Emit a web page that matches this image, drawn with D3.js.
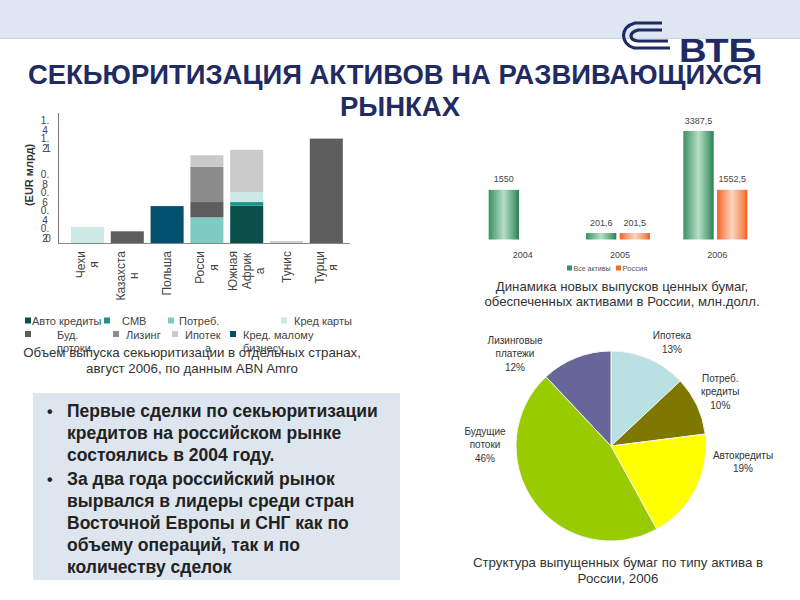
<!DOCTYPE html>
<html><head><meta charset="utf-8">
<script src="https://cdn.jsdelivr.net/npm/d3@7"></script>
<style>body{margin:0;background:#fff} svg{display:block;font-family:"Liberation Sans",Arial,sans-serif}</style>
</head><body><svg id="c" width="800" height="600"></svg>
<script>
// ---------- DATA ----------
const titleLines = ["СЕКЬЮРИТИЗАЦИЯ АКТИВОВ НА РАЗВИВАЮЩИХСЯ", "РЫНКАХ"];

// Left chart: securitization volume by country, EUR bn
const countries = ["Чехия","Казахстан","Польша","Россия","Южная Африка","Тунис","Турция"];
const countryLabelLines = [["Чехи","я"],["Казахста","н"],["Польша"],["Росси","я"],["Южная","Африк","а"],["Тунис"],["Турци","я"]];
const assetKeys = ["auto","cmb","consumer","cards","future","leasing","mortgage","sme"];
const assetNames = ["Авто кредиты","CMB","Потреб.","Кред карты","Буд. потоки","Лизинг","Ипотека","Кред. малому бизнесу"];
const autoLoans   = [0,    0,    0,    0,     0.415, 0,    0];
const cmbValues   = [0,    0,    0,    0,     0.04,  0,    0];
const consumer    = [0,    0,    0,    0.285, 0,     0,    0];
const creditCards = [0.18, 0,    0,    0,     0.11,  0,    0];
const futureFlows = [0,    0.13, 0,    0.17,  0,     0,    1.16];
const leasing     = [0,    0,    0,    0.39,  0,     0,    0];
const mortgage    = [0,    0,    0,    0.13,  0.47,  0.02, 0];
const smeLoans    = [0,    0,    0.41, 0,     0,     0,    0];
const yTicks = [0,0.2,0.4,0.6,0.8,1,1.2,1.4];
const yTickLines = [["0"],["0.","2"],["0.","4"],["0.","6"],["0.","8"],["1"],["1.","2"],["1.","4"]];
const yAxisTitle = "(EUR млрд)";
const leftCaption = ["Объем выпуска секьюритизации в отдельных странах,","август 2006, по данным ABN Amro"];

// Right-top chart: new ABS issues in Russia, USD mn
const years = ["2004","2005","2006"];
const seriesNames = ["Все активы","Россия"];
const allAssets = [1550, 201.6, 3387.5];
const russia    = [0,    201.5, 1552.5];
const allAssetsLabels = ["1550","201,6","3387,5"];
const russiaLabels    = ["","201,5","1552,5"];
const rightCaption = ["Динамика новых выпусков ценных бумаг,","обеспеченных активами в России, млн.долл."];

// Pie: structure by asset type, Russia 2006
const pieNames  = [["Ипотека","13%"],["Потреб.","кредиты","10%"],["Автокредиты","19%"],["Будущие","потоки","46%"],["Лизинговые","платежи","12%"]];
const pieValues = [13, 10, 19, 46, 12];
const pieCaption = ["Структура выпущенных бумаг по типу актива в","России, 2006"];

const bullets = [
  ["Первые сделки по секьюритизации","кредитов на российском рынке","состоялись в 2004 году."],
  ["За два года российский рынок","вырвался в лидеры среди стран","Восточной Европы и СНГ как по","объему операций, так и по","количеству сделок"]
];

// ---------- STYLE / LAYOUT ----------
const assetColors = ["#0b4f4b","#16958a","#80cbc1","#cce9e6","#5e5e5e","#8c8c8c","#cacaca","#00506e"];
const pieColors = ["#b9e0e2","#7f7800","#ffff00","#99cc00","#666699"];
const pieLabelPlacement = [{a:30.5,r:120},{a:63.6,r:122},{a:97,r:133},{a:270.5,r:126},{a:313.8,r:133}];
const navy = "#1f2b62";

const svg = d3.select("#c");

// Banner
svg.append("rect").attr("x",0).attr("y",0).attr("width",800).attr("height",38).attr("fill","#dde6f1");
svg.append("line").attr("x1",0).attr("x2",800).attr("y1",38.5).attr("y2",38.5).attr("stroke","#c9d6e8");

// Title
svg.selectAll("text.title").data(titleLines).join("text")
  .attr("x",(d,i)=>i?400:28).attr("y",(d,i)=>84+i*32)
  .attr("text-anchor",(d,i)=>i?"middle":"start").attr("font-size",27.5).attr("font-weight","bold")
  .attr("fill",navy)
  .each(function(d,i){ if(i===0) d3.select(this).attr("textLength",734).attr("lengthAdjust","spacingAndGlyphs"); })
  .text(d=>d);

// Logo
const logo = svg.append("g");
logo.append("path").attr("d","M662,23 L635,23 Q624,26 623.5,35.5 Q624,45 634,48 L670,48")
  .attr("fill","none").attr("stroke",navy).attr("stroke-width",3.2);
logo.append("path").attr("d","M662,30 L638,30 Q631,32 631,36 Q631.5,40.5 638,41 L668,41")
  .attr("fill","none").attr("stroke",navy).attr("stroke-width",3.2);
logo.append("text").attr("x",679).attr("y",62).attr("font-size",33).attr("font-weight","bold")
  .attr("fill",navy).attr("textLength",77).attr("lengthAdjust","spacingAndGlyphs").text("ВТБ");

// ---------- LEFT STACKED BAR CHART ----------
const seriesArrays = [autoLoans,cmbValues,consumer,creditCards,futureFlows,leasing,mortgage,smeLoans];
const rows = countries.map((c,i)=>{ const r={country:c}; assetKeys.forEach((k,j)=>r[k]=seriesArrays[j][i]); return r; });
const stack = d3.stack().keys(assetKeys)(rows);
const xL = d3.scaleBand().domain(countries).range([64.2,349.6]).paddingInner(0.17).paddingOuter(0.17);
const yL = d3.scaleLinear().domain([0,1.4]).range([243,117]);
const cL = d3.scaleOrdinal().domain(assetKeys).range(assetColors);

const gL = svg.append("g");
gL.selectAll("g.s").data(stack).join("g").attr("fill",d=>cL(d.key))
  .selectAll("rect").data(d=>d).join("rect")
  .attr("x",d=>xL(d.data.country)).attr("width",xL.bandwidth())
  .attr("y",d=>yL(d[1])).attr("height",d=>Math.max(0,yL(d[0])-yL(d[1])));

// axes lines
gL.append("line").attr("x1",58.5).attr("x2",58.5).attr("y1",113).attr("y2",243.5).attr("stroke","#777");
gL.append("line").attr("x1",58).attr("x2",350).attr("y1",243.5).attr("y2",243.5).attr("stroke","#888");

// y tick labels (wrapped like the original)
yTicks.forEach((v,i)=>{
  const lines = yTickLines[i];
  const t = gL.append("text").attr("font-size",10).attr("fill","#444").attr("text-anchor","middle");
  if(lines.length===1){
    t.append("tspan").attr("x",48).attr("y",yL(v)-1).text(lines[0]);
  } else {
    lines.forEach((l,k)=>t.append("tspan").attr("x",45).attr("y",yL(v)+7+k*9.5).text(l));
  }
});
gL.append("text").attr("transform","translate(33,175) rotate(-90)").attr("text-anchor","middle")
  .attr("font-size",11).attr("font-weight","bold").attr("fill","#333").text(yAxisTitle);

// x labels rotated, wrapped
countries.forEach((c,i)=>{
  const lines = countryLabelLines[i];
  const cx = xL(c)+xL.bandwidth()/2;
  const tmp = gL.append("text").attr("font-size",12);
  let maxW = 0;
  lines.forEach(l=>{ tmp.text(l); maxW=Math.max(maxW,tmp.node().getComputedTextLength()); });
  tmp.remove();
  lines.forEach((l,k)=>{
    const lx = cx + (k-(lines.length-1)/2)*13.5 + 4;
    gL.append("text").attr("transform",`translate(${lx},${251+maxW/2}) rotate(-90)`)
      .attr("text-anchor","middle").attr("font-size",12).attr("fill","#444").text(l);
  });
});

// legend
const legendLayout = [
  {mx:25,tx:32,row:0,lines:["Авто кредиты"]},
  {mx:104,tx:122,row:0,lines:["CMB"]},
  {mx:168,tx:179,row:0,lines:["Потреб."]},
  {mx:281,tx:294,row:0,lines:["Кред карты"]},
  {mx:25,tx:57,row:1,lines:["Буд.","потоки"]},
  {mx:113,tx:126,row:1,lines:["Лизинг"]},
  {mx:172,tx:185,row:1,lines:["Ипотек","а"],off:[0,20]},
  {mx:230,tx:243,row:1,lines:["Кред. малому","бизнесу"]}
];
assetNames.forEach((n,i)=>{
  const L = legendLayout[i];
  const y = 321 + L.row*13.5;
  gL.append("rect").attr("x",L.mx).attr("y",y-3.5).attr("width",6).attr("height",6).attr("fill",assetColors[i]);
  L.lines.forEach((l,k)=>gL.append("text").attr("x",L.tx+(L.off?L.off[k]:0)).attr("y",y+4+k*13.5)
    .attr("font-size",11).attr("fill","#444").text(l));
});
svg.selectAll("text.lc").data(leftCaption).join("text").attr("class","lc")
  .attr("x",192).attr("y",(d,i)=>357+i*16).attr("text-anchor","middle")
  .attr("font-size",13.3).attr("fill","#333").text(d=>d);

// ---------- BULLET BOX ----------
svg.append("rect").attr("x",33).attr("y",393).attr("width",367).attr("height",187).attr("fill","#dde5ee");
let ly = 417;
bullets.forEach((b,bi)=>{
  svg.append("text").attr("x",47).attr("y",ly).attr("font-size",16).attr("font-weight","bold").attr("fill","#222").text("•");
  b.forEach((l,k)=>{
    svg.append("text").attr("x",67).attr("y",ly).attr("font-size",17.5).attr("font-weight","bold")
      .attr("fill","#222").text(l);
    ly += 22;
  });
  ly += 2;
});

// ---------- RIGHT-TOP GROUPED BARS ----------
const defs = svg.append("defs");
const gGreen = defs.append("linearGradient").attr("id","gG").attr("x1",0).attr("x2",1).attr("y1",0).attr("y2",0);
[[0,"#3a9163"],[0.5,"#b7dec6"],[0.88,"#4d9c70"],[1,"#2b7a52"]].forEach(s=>gGreen.append("stop").attr("offset",s[0]).attr("stop-color",s[1]));
const gOr = defs.append("linearGradient").attr("id","gO").attr("x1",0).attr("x2",1).attr("y1",0).attr("y2",0);
[[0,"#f2662a"],[0.5,"#fdd6c2"],[0.88,"#f6874f"],[1,"#ee5c1c"]].forEach(s=>gOr.append("stop").attr("offset",s[0]).attr("stop-color",s[1]));

const xR = d3.scaleBand().domain(years).range([472,764]);
const x1 = d3.scaleBand().domain(seriesNames).range([-32,32]).paddingInner(0.1);
const yR = d3.scaleLinear().domain([0,3387.5]).range([239.5,131]);
const fills = ["url(#gG)","url(#gO)"];
const seriesData = [allAssets,russia];
const seriesLabels = [allAssetsLabels,russiaLabels];
const gR = svg.append("g");
years.forEach((yr,i)=>{
  const cx = xR(yr)+xR.bandwidth()/2;
  seriesNames.forEach((s,j)=>{
    const v = seriesData[j][i];
    const bx = cx + x1(s);
    if(v>0){
      gR.append("rect").attr("x",bx).attr("width",x1.bandwidth()).attr("y",yR(v)).attr("height",yR(0)-yR(v)).attr("fill",fills[j]);
    }
    if(seriesLabels[j][i]) gR.append("text").attr("x",bx+x1.bandwidth()/2).attr("y",yR(v)-7.5)
      .attr("text-anchor","middle").attr("font-size",9).attr("fill","#444").text(seriesLabels[j][i]);
  });
  gR.append("text").attr("x",cx+2).attr("y",258).attr("text-anchor","middle").attr("font-size",9).attr("fill","#444").text(yr);
});
// legend
[[567,573.5,37],[616,622.5,25]].forEach((p,j)=>{
  gR.append("rect").attr("x",p[0]).attr("y",265.5).attr("width",5).attr("height",5).attr("fill",j?"#f26a2e":"#3a9163");
  gR.append("text").attr("x",p[1]).attr("y",271).attr("font-size",8).attr("fill","#555")
    .attr("textLength",p[2]).attr("lengthAdjust","spacingAndGlyphs").text(seriesNames[j]);
});
svg.selectAll("text.rc").data(rightCaption).join("text").attr("class","rc")
  .attr("x",622).attr("y",(d,i)=>291+i*15).attr("text-anchor","middle")
  .attr("font-size",13.2).attr("fill","#333").text(d=>d);

// ---------- PIE ----------
const pcx=611, pcy=446, pr=95;
const arcs = d3.pie().sort(null)(pieValues);
const arcGen = d3.arc().innerRadius(0).outerRadius(pr);
const gP = svg.append("g").attr("transform",`translate(${pcx},${pcy})`);
gP.selectAll("path").data(arcs).join("path").attr("d",arcGen)
  .attr("fill",(d,i)=>pieColors[i]).attr("stroke","#f4f4f4").attr("stroke-width",1);
pieNames.forEach((lines,i)=>{
  const p = pieLabelPlacement[i];
  const a = p.a*Math.PI/180;
  const lx = Math.sin(a)*p.r, lyc = -Math.cos(a)*p.r;
  const t = gP.append("text").attr("text-anchor","middle").attr("font-size",10).attr("fill","#333");
  lines.forEach((l,k)=>t.append("tspan").attr("x",lx).attr("y",lyc+(k-(lines.length-1)/2)*13.3+3.5).text(l));
});
svg.selectAll("text.pc").data(pieCaption).join("text").attr("class","pc")
  .attr("x",618).attr("y",(d,i)=>567+i*16).attr("text-anchor","middle")
  .attr("font-size",13.3).attr("fill","#333").text(d=>d);
</script></body></html>
